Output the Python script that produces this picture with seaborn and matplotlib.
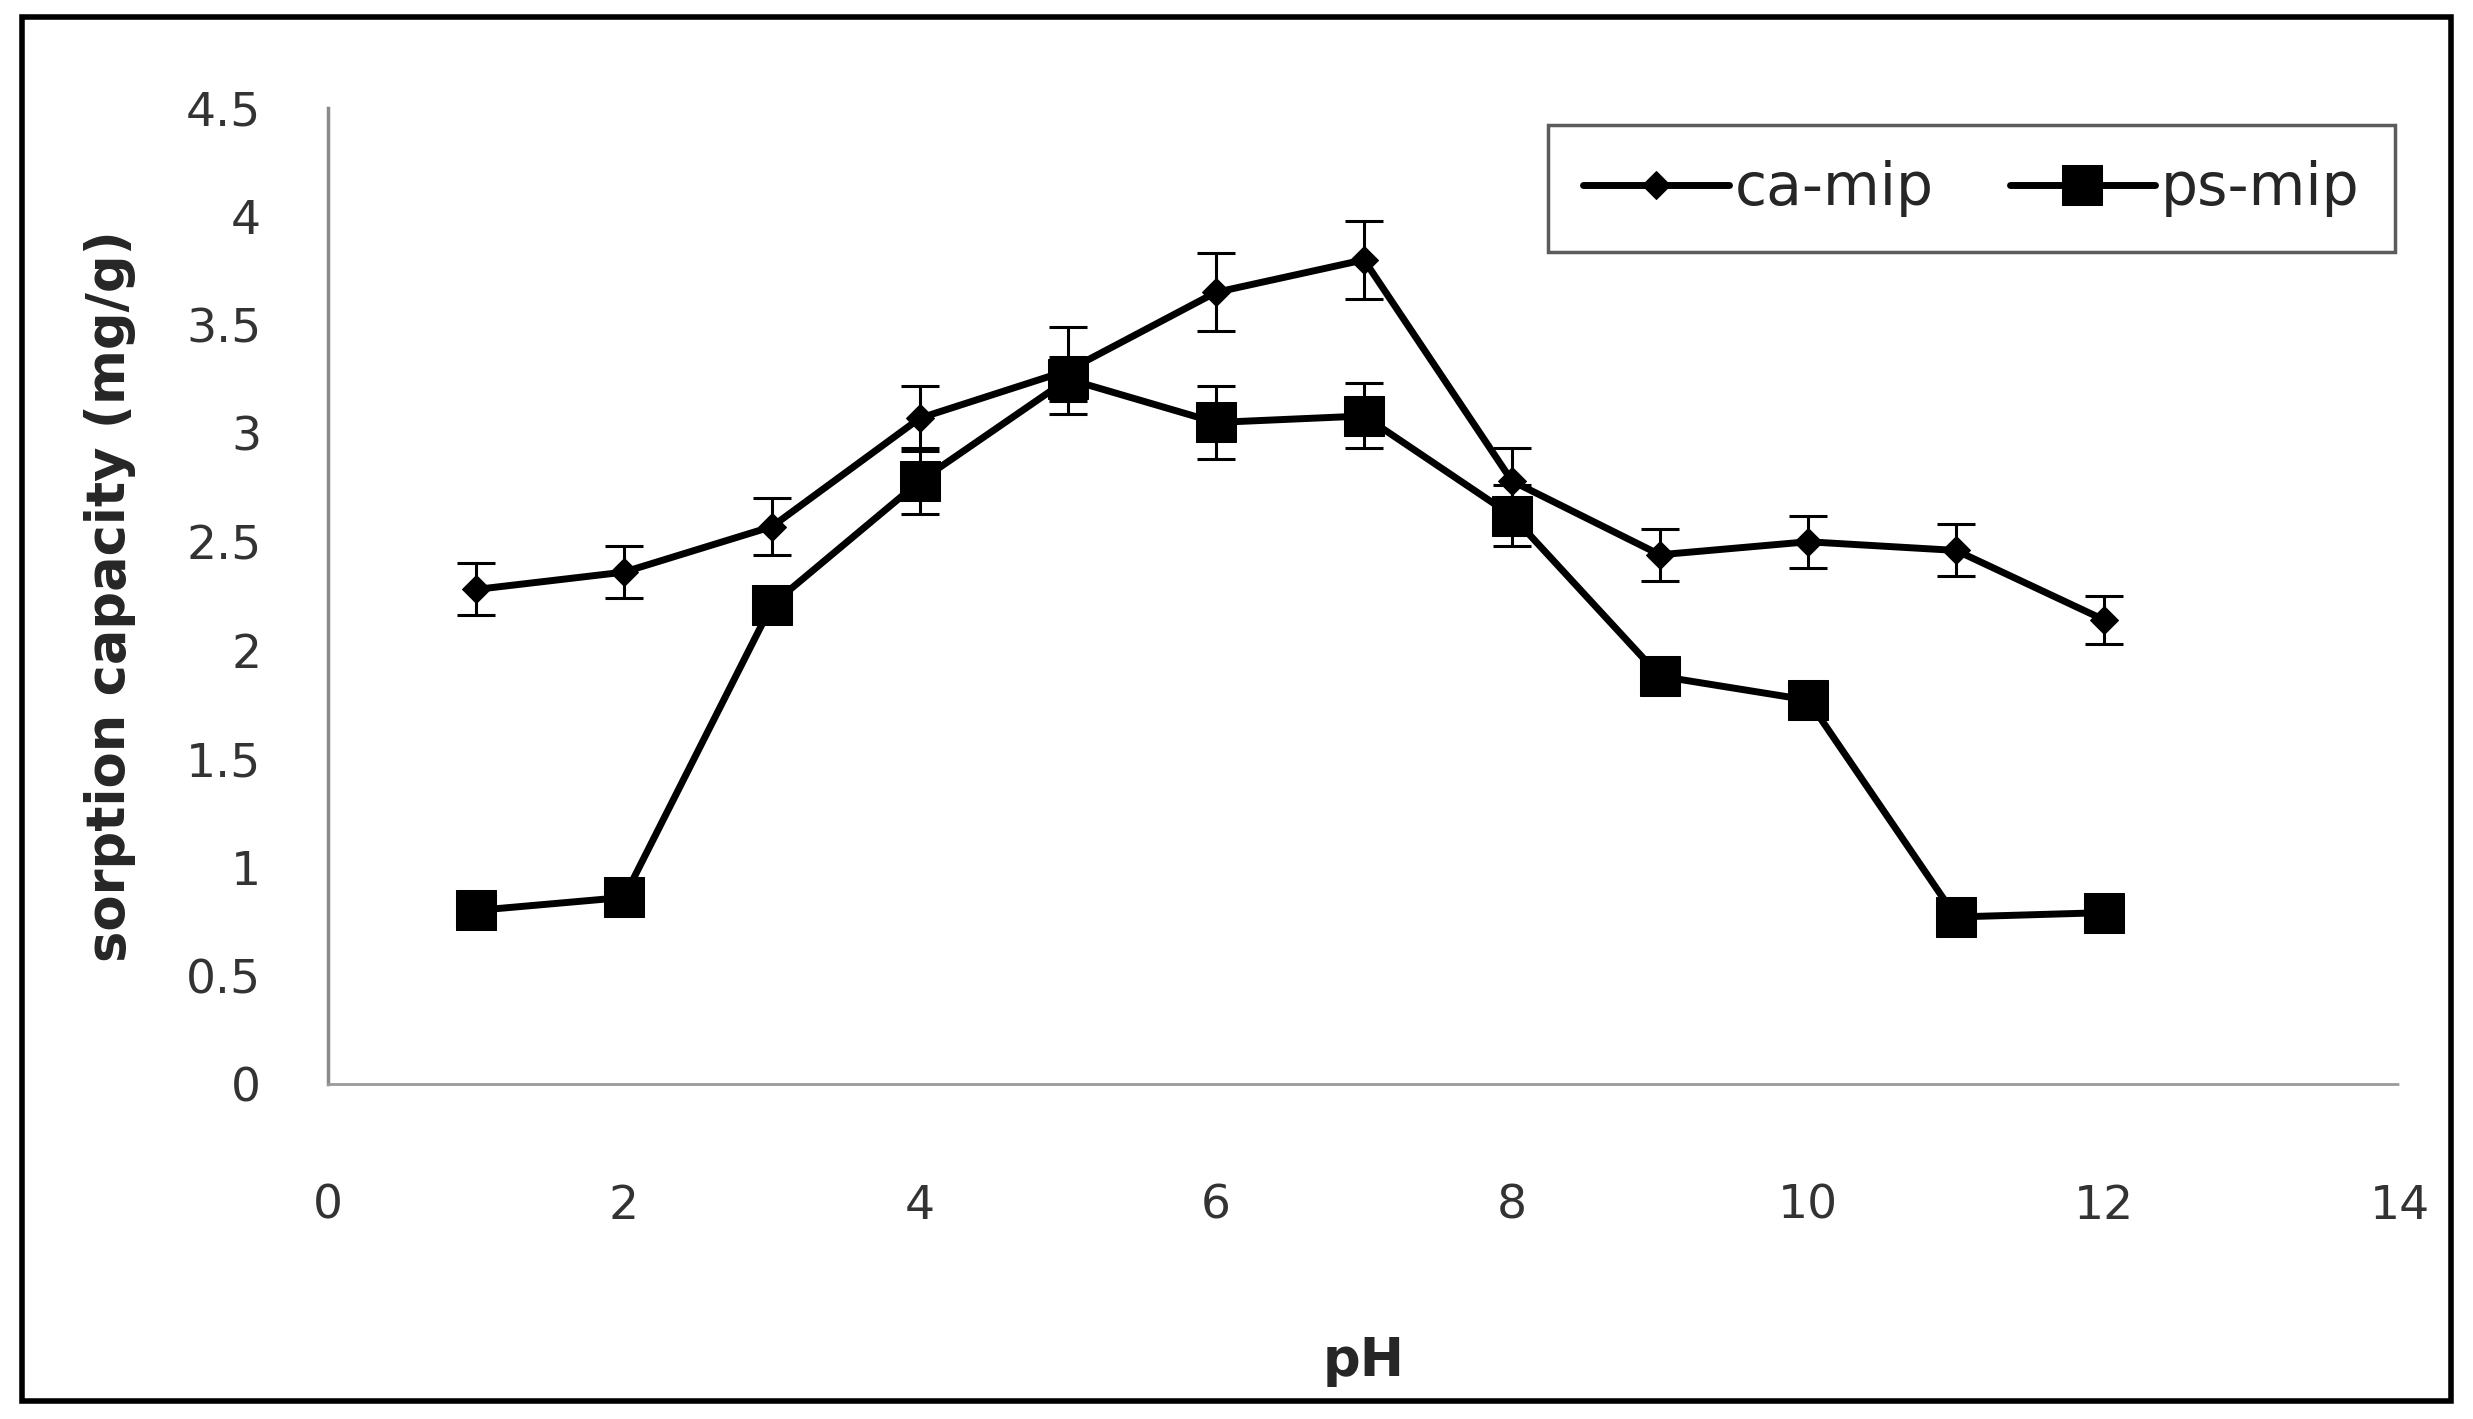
import numpy as np
import pandas as pd
import seaborn as sns
import matplotlib.pyplot as plt
from matplotlib.patches import Rectangle

# pH values and sorption capacity readings (mg/g)
ph = [1, 2, 3, 4, 5, 6, 7, 8, 9, 10, 11, 12]
ca_mip = [2.28, 2.36, 2.57, 3.07, 3.29, 3.65, 3.80, 2.78, 2.44, 2.50, 2.46, 2.14]
ca_err = [0.12, 0.12, 0.13, 0.15, 0.20, 0.18, 0.18, 0.15, 0.12, 0.12, 0.12, 0.11]
ps_mip = [0.80, 0.86, 2.21, 2.78, 3.25, 3.05, 3.08, 2.62, 1.88, 1.77, 0.77, 0.79]
ps_err = [0.05, 0.05, 0.08, 0.15, 0.10, 0.17, 0.15, 0.14, 0.05, 0.05, 0.05, 0.05]

ca_df = pd.DataFrame({'pH': ph, 'capacity': ca_mip})
ps_df = pd.DataFrame({'pH': ph, 'capacity': ps_mip})

sns.set_style('white')
plt.rcParams['font.family'] = ['DejaVu Sans']

fig = plt.figure(figsize=(24.73, 14.19), dpi=100)
ax = fig.add_axes([0.1326, 0.2361, 0.8379, 0.6878])

# error bars first so lines/markers sit on top
ax.errorbar(ph, ca_mip, yerr=ca_err, fmt='none', ecolor='black',
            elinewidth=2.2, capsize=14, capthick=2.2, zorder=2)
ax.errorbar(ph, ps_mip, yerr=ps_err, fmt='none', ecolor='black',
            elinewidth=2.2, capsize=14, capthick=2.2, zorder=2)

sns.lineplot(data=ca_df, x='pH', y='capacity', color='black', marker='D',
             markersize=14, markeredgecolor='black', linewidth=5,
             label='ca-mip', ax=ax, zorder=3)
sns.lineplot(data=ps_df, x='pH', y='capacity', color='black', marker='s',
             markersize=29, markeredgecolor='black', linewidth=5,
             label='ps-mip', ax=ax, zorder=3)

ax.set_xlim(0, 14)
ax.set_ylim(0, 4.5)
ax.set_xticks(np.arange(0, 15, 2))
ax.set_yticks(np.arange(0, 4.6, 0.5))
ax.set_yticklabels(['0', '0.5', '1', '1.5', '2', '2.5', '3', '3.5', '4', '4.5'])

for s in ['top', 'right']:
    ax.spines[s].set_visible(False)
ax.spines['left'].set_color('#8a8a8a')
ax.spines['left'].set_linewidth(2.5)
ax.spines['bottom'].set_color('#9a9a9a')
ax.spines['bottom'].set_linewidth(2)
ax.spines['bottom'].set_linestyle((0, (1, 1)))

ax.tick_params(axis='x', length=0, pad=72, labelsize=34, labelcolor='#333333')
ax.tick_params(axis='y', length=0, pad=48, labelsize=34, labelcolor='#333333')

ax.set_xlabel('pH', fontsize=38, fontweight='bold', labelpad=76)
ax.set_ylabel('sorption capacity (mg/g)', fontsize=38, fontweight='bold', labelpad=36)

leg = ax.legend(loc='upper right', bbox_to_anchor=(1.006, 1.0), ncol=2,
                fontsize=42, handlelength=2.5, frameon=True, fancybox=False,
                borderpad=0.6, borderaxespad=0.3, columnspacing=1.3,
                handletextpad=0.1)
leg.get_frame().set_edgecolor('#333333')
leg.get_frame().set_linewidth(2.5)

# outer frame around the whole chart
fig.patches.append(Rectangle((0.009, 0.013), 0.982, 0.975, transform=fig.transFigure,
                             fill=False, edgecolor='black', linewidth=4))

fig.savefig('out.png', dpi=100)
